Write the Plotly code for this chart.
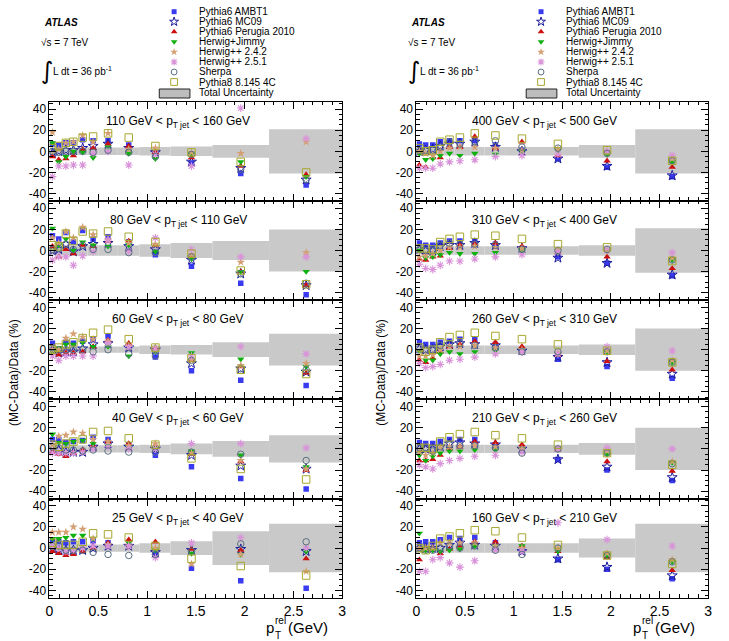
import plotly.graph_objects as go

W, H = 729, 641

# ---------------- data ----------------
bin_edges = [0, 0.05, 0.12, 0.2, 0.28, 0.39, 0.5, 0.7, 0.92, 1.24, 1.67, 2.25, 3.0]
prel_points = [0.03, 0.095, 0.168, 0.245, 0.34, 0.447, 0.6, 0.812, 1.085, 1.455, 1.96, 2.63]

series_names = ["Pythia6 AMBT1", "Pythia6 MC09", "Pythia6 Perugia 2010", "Herwig+Jimmy",
                "Herwig++ 2.4.2", "Herwig++ 2.5.1", "Sherpa", "Pythia8 8.145 4C"]
series_keys = ["ambt1", "mc09", "perugia", "jimmy", "hpp242", "hpp251", "sherpa", "pythia8"]

panel_110_160 = dict(
    ambt1=[7, 6, 8, 8, 11, 10, 10, 6, -2, -11, -21, -32],
    mc09=[-2, 0, 1, 1, 3, 5, 7, 3, -1, -10, -16, -27],
    perugia=[-5, -8, -7, -4, 2, 3, 7, 5, -1, -6, -14, -22],
    jimmy=[8, -10, -5, 0, -1, -6, 4, -2, -7, -2, -10, -24],
    hpp242=[18, 2, 8, 9, 15, 9, 17, 2, 3, -1, -2, 9],
    hpp251=[-24, -14, -14, -13, -13, -2, 0, -13, -3, -14, 41, 12],
    sherpa=[0, -1, 0, 0, 0, -1, 1, -1, -5, -3, -17, -27],
    pythia8=[3, 5, 8, 9, 13, 14, 17, 13, 5, -1, -10, -20],
    unc=[3.5, 3.5, 3.5, 3.5, 3.5, 3.5, 3.5, 3.5, 4, 4.5, 6, 21],
)
panel_80_110 = dict(
    ambt1=[14, 11, 17, 8, 19, 11, 13, 8, -4, -15, -31, -42],
    mc09=[0, 1, 6, -1, 4, 6, 7, 4, 1, -9, -22, -33],
    perugia=[4, -6, 1, -3, 5, 4, 9, 9, 5, -6, -20, -33],
    jimmy=[21, 5, 11, 0, 8, 5, 4, 5, -1, -8, -20, -20],
    hpp242=[12, 7, 18, 12, 22, 15, 10, 7, 6, -4, -11, -2],
    hpp251=[-9, -6, -6, -14, -5, -1, 10, -1, 12, 1, -6, -6],
    sherpa=[1, 2, 6, 1, 5, 1, 1, -2, -2, -6, -22, -31],
    pythia8=[5, 4, 16, 9, 18, 16, 18, 13, 8, -3, -19, -32],
    unc=[5, 5, 5, 5, 5, 5, 5, 5, 6, 7, 9, 20],
)
panel_60_80 = dict(
    ambt1=[6, 0, 7, 6, 8, 10, 13, 3, -7, -20, -29, -34],
    mc09=[0, -3, -2, -2, 1, 5, 6, 2, 0, -13, -18, -21],
    perugia=[-3, -5, -3, -3, -2, 3, 9, 6, 1, -10, -16, -22],
    jimmy=[-2, 2, 5, 5, 7, 3, 3, -6, -2, -3, -9, -16],
    hpp242=[0, 0, 11, 15, 12, 10, 8, 3, 2, -10, -15, -13],
    hpp251=[-6, -10, -6, -6, -6, -6, 6, 3, 0, -6, 3, -4],
    sherpa=[2, 0, 0, 0, 0, -2, 0, -4, -6, -10, -18, -19],
    pythia8=[0, 2, 5, 7, 11, 16, 19, 10, 2, -8, -19, -23],
    unc=[3, 3, 3, 3, 3, 3, 3, 3, 4, 4.5, 7, 15],
)
panel_40_60 = dict(
    ambt1=[9, 9, 6, 7, 8, 11, 9, 4, -6, -17, -28, -38],
    mc09=[0, -1, -3, -3, -3, 2, 5, 2, 0, -6, -16, -19],
    perugia=[-3, -5, -7, -4, -1, 3, 7, 5, 3, -5, -12, -20],
    jimmy=[14, 6, 5, 7, 8, 5, 3, 2, 1, -2, -6, -17],
    hpp242=[4, 12, 13, 16, 15, 9, 7, 3, 5, -4, -11, -19],
    hpp251=[-4, -4, -4, -4, -3, 0, 2, 0, 0, 5, 5, 1],
    sherpa=[2, 1, -1, -1, -2, -1, -2, -3, -3, -3, -5, -11],
    pythia8=[4, 2, 5, 7, 9, 16, 17, 10, 4, -9, -19, -29],
    unc=[3.5, 3.5, 3.5, 3.5, 3.5, 3.5, 3.5, 3.5, 4, 5, 7.5, 13],
)
panel_25_40 = dict(
    ambt1=[8, 6, 5, 6, 6, 7, 5, 2, -6, -19, -31, -38],
    mc09=[0, -2, -2, -2, -2, 0, 2, 2, -4, -2, -1, -3],
    perugia=[-3, -5, -7, -6, -3, 0, 5, 8, 6, -1, -2, -10],
    jimmy=[9, 9, 10, 12, 12, 9, 3, 5, -2, -5, -6, -3],
    hpp242=[15, 15, 15, 20, 18, 9, 3, 2, 0, -15, -6, -22],
    hpp251=[2, 0, -3, -2, 0, 2, 2, 2, -9, 5, 10, 0],
    sherpa=[2, 2, -2, -2, -2, -4, -6, -7, -6, -3, 4, 6],
    pythia8=[5, 3, 3, 3, 6, 14, 13, 10, 2, -10, -17, -26],
    unc=[3.5, 3.5, 3.5, 3.5, 3.5, 3.5, 3.5, 3.5, 4.5, 6.5, 16, 23],
)
panel_400_500 = dict(
    ambt1=[7, 6, 6, 9, 10, 10, 10, 6, 1, -7, -15, -24],
    mc09=[0, 1, 2, 5, 7, 7, 9, 4, 0, -7, -14, -23],
    perugia=[-13, -15, -6, -6, 4, 4, 14, 3, 9, -4, -9, -15],
    jimmy=[-2, -8, -7, -4, -2, -4, -2, -3, 0, 1, -3, -10],
    hpp242=[0, -2, -4, 0, 3, 4, 4, 3, 1, 2, 0, -7],
    hpp251=[-16, -16, -16, -12, -10, -9, -8, -5, -4, -3, 0, -4],
    sherpa=[1, 1, 1, 4, 9, 7, 9, 10, 4, 3, -2, -9],
    pythia8=[3, 0, 1, 9, 11, 13, 17, 15, 12, 7, 1, -9],
    unc=[4, 4, 4, 4, 4, 4, 4, 4, 4, 4, 6, 21],
)
panel_310_400 = dict(
    ambt1=[7, 5, 5, 7, 9, 9, 9, 6, 2, -6, -12, -24],
    mc09=[1, 0, 0, 4, 5, 5, 7, 5, 2, -7, -12, -23],
    perugia=[-8, -9, -6, -5, 2, 5, 6, 7, 4, -2, -6, -17],
    jimmy=[0, -7, -6, -4, -2, -3, -3, -2, 0, -2, 0, -9],
    hpp242=[-6, -5, -3, 0, 3, 3, 4, 3, 2, 0, 0, -7],
    hpp251=[-13, -17, -18, -14, -10, -10, -8, -6, -4, -1, 0, -2],
    sherpa=[1, 0, 0, 5, 7, 6, 6, 5, 1, 0, 1, -9],
    pythia8=[2, 2, 1, 8, 11, 13, 15, 14, 11, 6, 3, -10],
    unc=[4, 4, 4, 4, 4, 4, 4, 4, 4, 4, 5, 21],
)
panel_260_310 = dict(
    ambt1=[7, 5, 5, 7, 8, 10, 10, 5, 0, -9, -16, -27],
    mc09=[1, 0, 0, 3, 5, 6, 5, 4, -1, -7, -12, -23],
    perugia=[-10, -12, -8, -2, 3, 5, 8, 7, 3, -5, -11, -19],
    jimmy=[-1, -10, -10, -4, -2, -4, -2, -1, 0, -4, -2, -12],
    hpp242=[-6, -6, -5, 0, 3, 3, 4, 2, 0, -3, -1, -10],
    hpp251=[-13, -17, -16, -14, -10, -9, -7, -4, -2, -4, 3, -1],
    sherpa=[2, 0, 0, 4, 6, 6, 4, 2, -2, -2, -2, -12],
    pythia8=[2, -2, 0, 7, 12, 14, 16, 13, 10, 5, -1, -12],
    unc=[4, 4, 4, 4, 4, 4, 4, 4, 4, 4, 5, 20],
)
panel_210_260 = dict(
    ambt1=[6, 5, 5, 7, 9, 9, 9, 4, -1, -10, -20, -30],
    mc09=[0, 0, 0, 2, 5, 6, 5, 4, 0, -10, -17, -27],
    perugia=[-11, -11, -10, -6, 0, 2, 7, 6, 4, -1, -12, -21],
    jimmy=[-6, -11, -7, -4, -2, -2, -1, -1, 0, 0, -5, -13],
    hpp242=[-3, -6, -4, 1, 2, 2, 3, 2, 0, 0, -2, -12],
    hpp251=[-15, -17, -19, -14, -11, -9, -7, -6, -3, 0, 1, 0],
    sherpa=[1, 1, -2, 2, 4, 3, 3, 1, -4, 0, -4, -14],
    pythia8=[1, 1, 0, 7, 11, 14, 16, 13, 10, 4, -4, -15],
    unc=[4, 4, 4, 4, 4, 4, 4, 4, 4, 4, 5.5, 20],
)
panel_160_210 = dict(
    ambt1=[5, 6, 6, 8, 10, 9, 10, 5, -2, -11, -20, -29],
    mc09=[0, 0, 0, 0, 3, 5, 3, 2, -3, -10, -18, -26],
    perugia=[-11, 0, 0, -5, -1, 2, 6, 6, 2, -3, -9, -21],
    jimmy=[14, -2, -2, -3, -2, -1, 2, 2, 2, -3, -7, -13],
    hpp242=[0, 0, 0, 5, 5, 5, 5, 2, 0, 0, -5, -11],
    hpp251=[-22, -22, -11, -9, -14, -18, -12, -2, -3, 24, 8, 2],
    sherpa=[0, -2, -2, 0, 2, 0, 2, -2, -6, 0, -7, -13],
    pythia8=[0, -2, 2, 9, 11, 14, 17, 16, 10, 3, -7, -15],
    unc=[4.5, 4.5, 4.5, 4.5, 4.5, 4.5, 4.5, 4.5, 4.5, 4.5, 9, 23],
)

# panel order: left column top->bottom, right column top->bottom
panels = [panel_110_160, panel_80_110, panel_60_80, panel_40_60, panel_25_40,
          panel_400_500, panel_310_400, panel_260_310, panel_210_260, panel_160_210]
panel_labels = ["110 GeV &lt; p<sub>T jet</sub> &lt; 160 GeV", "80 GeV &lt; p<sub>T jet</sub> &lt; 110 GeV",
                "60 GeV &lt; p<sub>T jet</sub> &lt; 80 GeV", "40 GeV &lt; p<sub>T jet</sub> &lt; 60 GeV",
                "25 GeV &lt; p<sub>T jet</sub> &lt; 40 GeV",
                "400 GeV &lt; p<sub>T jet</sub> &lt; 500 GeV", "310 GeV &lt; p<sub>T jet</sub> &lt; 400 GeV",
                "260 GeV &lt; p<sub>T jet</sub> &lt; 310 GeV", "210 GeV &lt; p<sub>T jet</sub> &lt; 260 GeV",
                "160 GeV &lt; p<sub>T jet</sub> &lt; 210 GeV"]
y_tick_vals = [-40, -20, 0, 20, 40]
y_tick_text = ["-40", "-20", "0", "20", "40"]

# ---------------- styles ----------------
styles = {
    "ambt1": dict(symbol="square", color="#3a3af0", size=5.5, lw=0),
    "mc09": dict(symbol="star-open", color="#1c1c9c", size=7.5, lw=1),
    "perugia": dict(symbol="triangle-up", color="#cc1010", size=6.5, lw=0),
    "jimmy": dict(symbol="triangle-down", color="#10b010", size=6.5, lw=0),
    "hpp242": dict(symbol="star", color="#d4a073", size=6.5, lw=0),
    "hpp251": dict(symbol="asterisk-open", color="#d994d9", size=6.5, lw=1.1),
    "sherpa": dict(symbol="circle-open", color="#5a7080", size=6.5, lw=1),
    "pythia8": dict(symbol="square-open", color="#a8a830", size=7.5, lw=1),
}
FONT = "Liberation Sans, Arial, Helvetica, sans-serif"
band_color = "#c9c9c9"

fig = go.Figure()

def px(x):
    return x / W

def py(y):
    return 1 - y / H

top_px, panel_h = 101.7, 99.2
col_x = [(46, 342), (417, 712)]

bin_centers = [(a + b) / 2 for a, b in zip(bin_edges[:-1], bin_edges[1:])]
bin_widths = [b - a for a, b in zip(bin_edges[:-1], bin_edges[1:])]

layout_axes = {}
annotations = []
for i, pdata in enumerate(panels):
    col = i // 5
    row = i % 5
    n = i + 1
    xa = "x" if n == 1 else f"x{n}"
    ya = "y" if n == 1 else f"y{n}"
    xname = "xaxis" if n == 1 else f"xaxis{n}"
    yname = "yaxis" if n == 1 else f"yaxis{n}"
    y0 = py(top_px + (row + 1) * panel_h)
    y1 = py(top_px + row * panel_h)
    x0, x1 = px(col_x[col][0]), px(col_x[col][1])

    unc = pdata["unc"]
    fig.add_trace(go.Bar(x=bin_centers, y=[2 * u for u in unc], base=[-u for u in unc],
                         width=bin_widths, marker=dict(color=band_color, line=dict(width=0)),
                         xaxis=xa, yaxis=ya, hoverinfo="skip"))
    for name, key in zip(series_names, series_keys):
        st = styles[key]
        fig.add_trace(go.Scatter(
            x=prel_points, y=pdata[key], mode="markers", name=name,
            marker=dict(symbol=st["symbol"], color=st["color"], size=st["size"],
                        line=dict(color=st["color"], width=st["lw"])),
            xaxis=xa, yaxis=ya, cliponaxis=True))

    layout_axes[xname] = dict(
        domain=[x0, x1], anchor=ya, range=[0, 3], showline=True, linecolor="black", linewidth=1,
        mirror="allticks", ticks="inside", ticklen=7, tickcolor="black", tickwidth=1,
        tick0=0, dtick=0.5, showgrid=False, zeroline=False,
        minor=dict(ticks="inside", dtick=0.1, tick0=0, ticklen=3.5, tickcolor="black", showgrid=False),
        showticklabels=(row == 4), tickfont=dict(family=FONT, size=14, color="black"))
    layout_axes[yname] = dict(
        domain=[y0, y1], anchor=xa, range=[-47, 47], showline=True, linecolor="black", linewidth=1,
        mirror="allticks", ticks="inside", ticklen=7, tickcolor="black", tickwidth=1,
        tickmode="array", tickvals=y_tick_vals, ticktext=y_tick_text, showgrid=False, zeroline=False,
        minor=dict(ticks="inside", dtick=5, tick0=0, ticklen=3.5, tickcolor="black", showgrid=False),
        tickfont=dict(family=FONT, size=12, color="black"))
    annotations.append(dict(text=panel_labels[i], x=1.32, y=28, xref=xa, yref=ya,
                            showarrow=False, font=dict(family=FONT, size=12, color="black"),
                            xanchor="center", yanchor="middle"))

# overlay pixel axis for legend markers
layout_axes["xaxis11"] = dict(domain=[0, 1], range=[0, W], visible=False, anchor="y11", fixedrange=True)
layout_axes["yaxis11"] = dict(domain=[0, 1], range=[H, 0], visible=False, anchor="x11", fixedrange=True)

legend_rows = [11.7, 21.7, 31.7, 41.7, 52.0, 62.0, 72.0, 82.0]
shapes = []
for off in (0, 371):
    for r, (name, key) in enumerate(zip(series_names, series_keys)):
        st = styles[key]
        fig.add_trace(go.Scatter(
            x=[172 + off], y=[legend_rows[r]], mode="markers", showlegend=False,
            marker=dict(symbol=st["symbol"], color=st["color"], size=st["size"] * 0.9,
                        line=dict(color=st["color"], width=st["lw"])),
            xaxis="x11", yaxis="y11", hoverinfo="skip"))
        annotations.append(dict(text=name, x=px(195 + off), y=py(legend_rows[r]), xref="paper", yref="paper",
                                xanchor="left", yanchor="middle", showarrow=False,
                                font=dict(family=FONT, size=10, color="black")))
    annotations.append(dict(text="Total Uncertainty", x=px(195 + off), y=py(92.7), xref="paper", yref="paper",
                            xanchor="left", yanchor="middle", showarrow=False,
                            font=dict(family=FONT, size=10, color="black")))
    shapes.append(dict(type="rect", xref="paper", yref="paper", x0=px(157 + off), x1=px(188 + off),
                       y0=py(98), y1=py(89), fillcolor="#bdbdbd", line=dict(color="#222222", width=1)))
    # ATLAS labels
    annotations.append(dict(text="<b><i>ATLAS</i></b>", x=px(38 + off), y=py(23), xref="paper", yref="paper",
                            xanchor="left", yanchor="middle", showarrow=False,
                            font=dict(family=FONT, size=10, color="black")))
    annotations.append(dict(text="√s = 7 TeV", x=px(35 + off), y=py(43), xref="paper", yref="paper",
                            xanchor="left", yanchor="middle", showarrow=False,
                            font=dict(family=FONT, size=10, color="black")))
    annotations.append(dict(text="∫", x=px(35 + off), y=py(71), xref="paper", yref="paper",
                            xanchor="left", yanchor="middle", showarrow=False,
                            font=dict(family="DejaVu Sans, sans-serif", size=24, color="black")))
    annotations.append(dict(text="L dt = 36 pb<sup>-1</sup>", x=px(48 + off), y=py(71), xref="paper", yref="paper",
                            xanchor="left", yanchor="middle", showarrow=False,
                            font=dict(family=FONT, size=10, color="black")))
    # y title
    annotations.append(dict(text="(MC-Data)/Data (%)", x=px(10 + off), y=py(372), xref="paper", yref="paper",
                            xanchor="center", yanchor="middle", textangle=-90, showarrow=False,
                            font=dict(family=FONT, size=12, color="black")))
    # x title
    annotations.append(dict(text="p", x=px(263 + off), y=py(627), xref="paper", yref="paper",
                            xanchor="left", yanchor="middle", showarrow=False,
                            font=dict(family=FONT, size=15, color="black")))
    annotations.append(dict(text="rel", x=px(272 + off), y=py(620), xref="paper", yref="paper",
                            xanchor="left", yanchor="middle", showarrow=False,
                            font=dict(family=FONT, size=10, color="black")))
    annotations.append(dict(text="T", x=px(272 + off), y=py(635), xref="paper", yref="paper",
                            xanchor="left", yanchor="middle", showarrow=False,
                            font=dict(family=FONT, size=10, color="black")))
    annotations.append(dict(text="(GeV)", x=px(285 + off), y=py(627), xref="paper", yref="paper",
                            xanchor="left", yanchor="middle", showarrow=False,
                            font=dict(family=FONT, size=15, color="black")))

fig.update_layout(
    width=W, height=H, margin=dict(l=0, r=0, t=0, b=0),
    paper_bgcolor="white", plot_bgcolor="rgba(0,0,0,0)",
    showlegend=False, barmode="overlay", font=dict(family=FONT, color="black"),
    annotations=annotations, shapes=shapes, **layout_axes)

fig.write_html("out.html")
